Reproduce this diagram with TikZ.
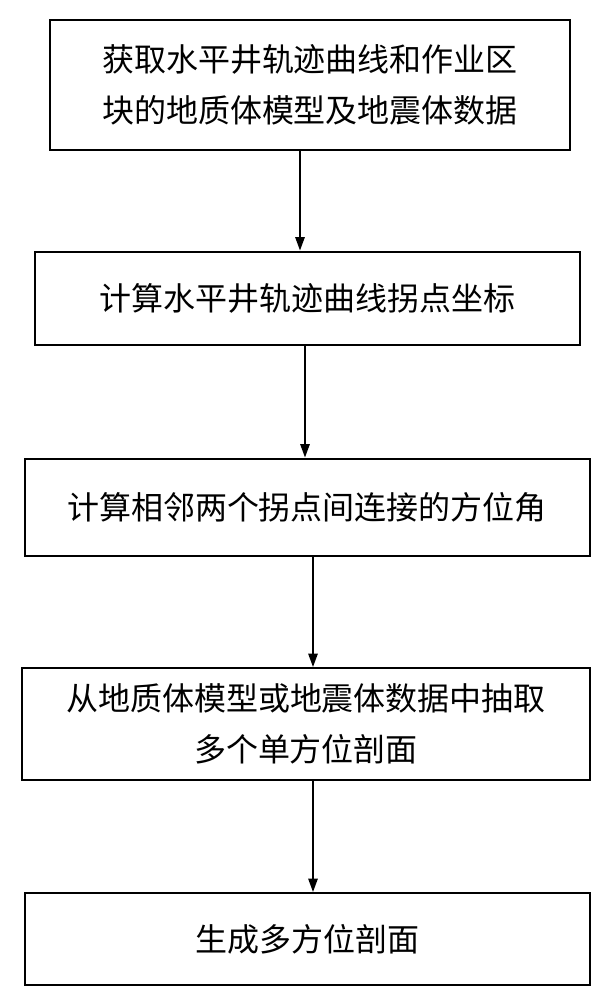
\documentclass[tikz,border=0pt]{standalone}
\usepackage{fontspec}
\newfontfamily\cjk{Noto Sans CJK SC}
\usetikzlibrary{arrows.meta}
\begin{document}
\begin{tikzpicture}[x=0.75pt,y=-0.75pt,
  box/.style={draw,line width=1.5pt,inner sep=0pt,font=\cjk\fontsize{24}{38}\selectfont,align=center},
  arr/.style={line width=1.2pt,-{Triangle[length=10pt,width=7pt]}}]
\useasboundingbox (0,0) rectangle (613,1000);
\node[box,minimum width=520*0.75pt,minimum height=130*0.75pt] (a) at (310,85) {获取水平井轨迹曲线和作业区\\块的地质体模型及地震体数据};
\node[box,minimum width=545*0.75pt,minimum height=93*0.75pt] (b) at (307,298) {计算水平井轨迹曲线拐点坐标};
\node[box,minimum width=565*0.75pt,minimum height=97*0.75pt] (c) at (307,507) {计算相邻两个拐点间连接的方位角};
\node[box,minimum width=568*0.75pt,minimum height=112*0.75pt] (d) at (306,724) {从地质体模型或地震体数据中抽取\\多个单方位剖面};
\node[box,minimum width=565*0.75pt,minimum height=92*0.75pt] (e) at (307,939) {生成多方位剖面};
\coordinate (x1) at (300,0);
\coordinate (x2) at (305,0);
\coordinate (x3) at (313,0);
\draw[arr] (a.south -| x1) -- (b.north -| x1);
\draw[arr] (b.south -| x2) -- (c.north -| x2);
\draw[arr] (c.south -| x3) -- (d.north -| x3);
\draw[arr] (d.south -| x3) -- (e.north -| x3);
\end{tikzpicture}
\end{document}
